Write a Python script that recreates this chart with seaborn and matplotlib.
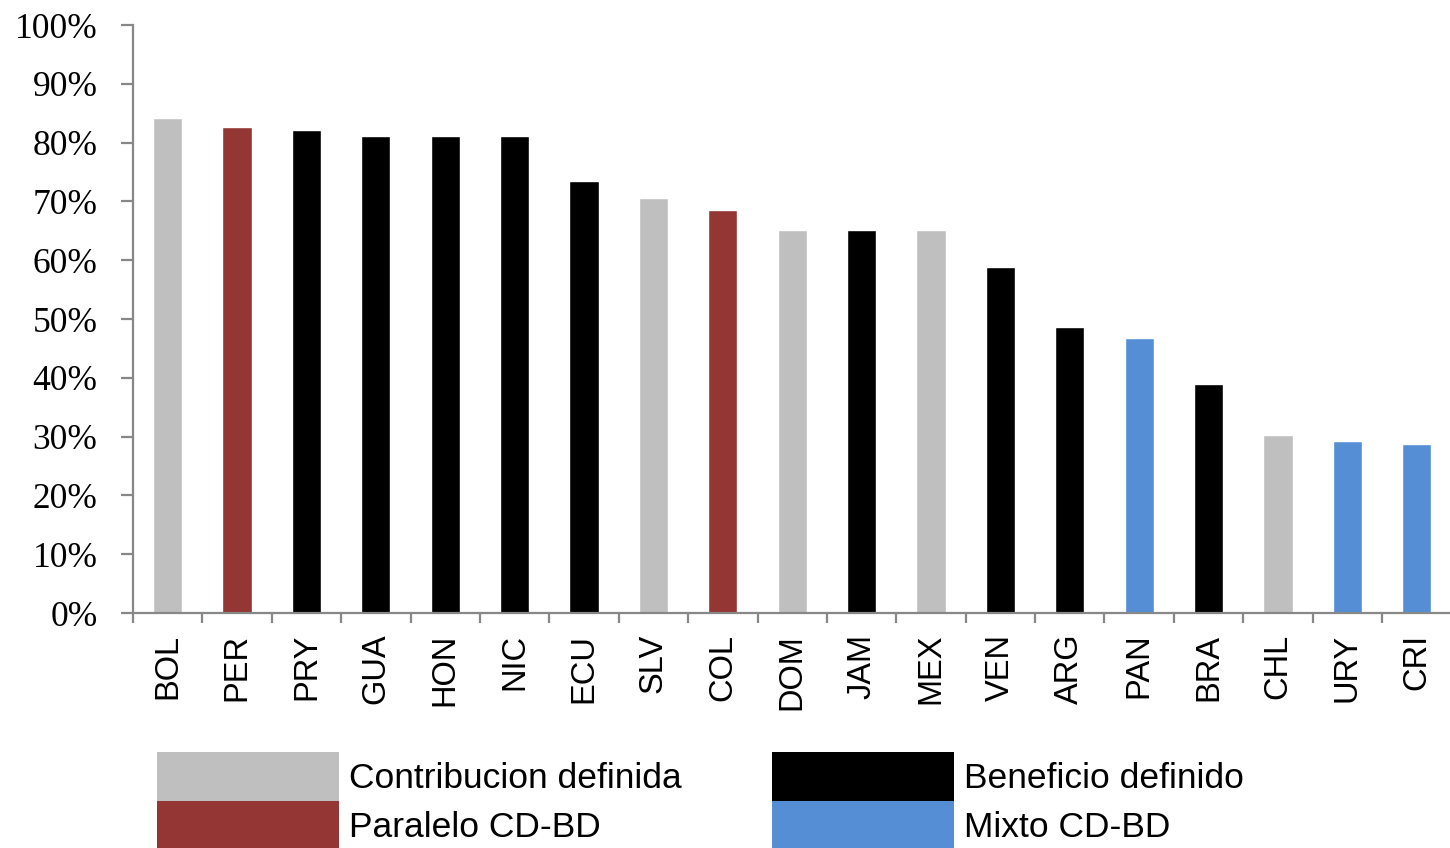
import matplotlib
matplotlib.use("Agg")
import matplotlib.pyplot as plt
import matplotlib.ticker as mticker
from matplotlib.patches import Patch
import numpy as np
import pandas as pd
import seaborn as sns

# datos
paises = ['BOL', 'PER', 'PRY', 'GUA', 'HON', 'NIC', 'ECU', 'SLV', 'COL', 'DOM',
          'JAM', 'MEX', 'VEN', 'ARG', 'PAN', 'BRA', 'CHL', 'URY', 'CRI']
valores = [0.842, 0.827, 0.821, 0.811, 0.811, 0.811, 0.735, 0.706, 0.685, 0.651,
           0.651, 0.651, 0.588, 0.486, 0.468, 0.389, 0.303, 0.293, 0.287]
tipos = ['CD', 'PAR', 'BD', 'BD', 'BD', 'BD', 'BD', 'CD', 'PAR', 'CD',
         'BD', 'CD', 'BD', 'BD', 'MIX', 'BD', 'CD', 'MIX', 'MIX']
etiquetas = {'CD': 'Contribucion definida', 'BD': 'Beneficio definido',
             'PAR': 'Paralelo CD-BD', 'MIX': 'Mixto CD-BD'}
colores = {'CD': '#BFBFBF', 'BD': '#000000', 'PAR': '#943634', 'MIX': '#558ED5'}

df = pd.DataFrame({'pais': paises, 'valor': valores, 'tipo': tipos})

sns.set_style('white')
plt.rcParams['text.color'] = 'black'
plt.rcParams['xtick.labelcolor'] = 'black'
plt.rcParams['ytick.labelcolor'] = 'black'
gris = '#878787'

fig = plt.figure(figsize=(14.5, 8.48), dpi=100)
ax = fig.add_axes([0.0917, 0.2771, 0.9093, 0.6934])

sns.barplot(data=df, x='pais', y='valor', hue='tipo', palette=colores,
            dodge=False, width=0.42, legend=False, saturation=1, ax=ax)

ax.set_xlim(-0.5, len(paises) - 0.5)
ax.set_ylim(0, 1)
ax.yaxis.set_major_locator(mticker.MultipleLocator(0.1))
ax.yaxis.set_major_formatter(mticker.PercentFormatter(1.0, decimals=0))
ax.set_xlabel('')
ax.set_ylabel('')

for s in ['top', 'right']:
    ax.spines[s].set_visible(False)
for s in ['left', 'bottom']:
    ax.spines[s].set_color(gris)
    ax.spines[s].set_linewidth(1.6)

# ticks y
ax.tick_params(axis='y', which='major', direction='out', length=8.5, width=1.6,
               color=gris, labelcolor='black', pad=17, left=True)
for lab in ax.get_yticklabels():
    lab.set_fontfamily('Liberation Serif')
    lab.set_fontsize(25.5)

# ticks x: marcas en los limites de categoria
ax.xaxis.set_minor_locator(mticker.FixedLocator(np.arange(-0.5, len(paises) - 1, 1.0)))
ax.tick_params(axis='x', which='minor', direction='out', length=7.5, width=1.6,
               color=gris, bottom=True)
ax.tick_params(axis='x', which='major', length=0, pad=15, labelcolor='black')
ax.set_xticks(range(len(paises)))
ax.set_xticklabels(paises, rotation=90, fontsize=23.5, fontfamily='Liberation Sans',
                   va='top', ha='center', color='black')

# leyenda en dos columnas
col1 = [Patch(facecolor=colores[k], edgecolor='none') for k in ['CD', 'PAR']]
col2 = [Patch(facecolor=colores[k], edgecolor='none') for k in ['BD', 'MIX']]
kw = dict(loc='upper left', frameon=False, borderpad=0, borderaxespad=0,
          labelspacing=0, handlelength=5.15, handleheight=1.75, handletextpad=0.26,
          labelcolor='black', prop={'family': 'Liberation Sans', 'size': 25.5})
leg1 = fig.legend(col1, [etiquetas['CD'], etiquetas['PAR']],
                  bbox_to_anchor=(157 / 1450, 1 - 752 / 848), **kw)
leg2 = fig.legend(col2, [etiquetas['BD'], etiquetas['MIX']],
                  bbox_to_anchor=(772 / 1450, 1 - 752 / 848), **kw)

fig.savefig('out.png', dpi=100)
